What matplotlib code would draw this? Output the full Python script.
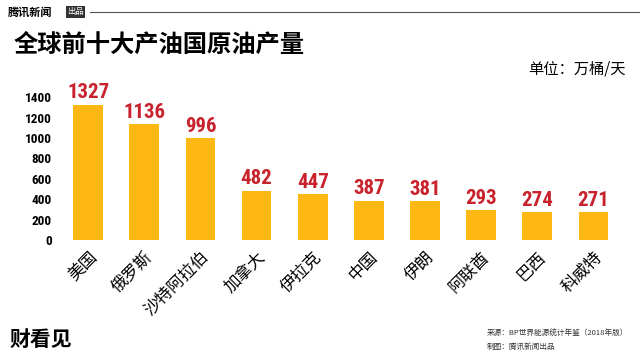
import matplotlib.pyplot as plt
from matplotlib import font_manager

plt.rcParams['font.family'] = ['Noto Sans CJK SC', 'DejaVu Sans']

countries = ['美国', '俄罗斯', '沙特阿拉伯', '加拿大', '伊拉克', '中国', '伊朗', '阿联酋', '巴西', '科威特']
output = [1327, 1136, 996, 482, 447, 387, 381, 293, 274, 271]
yticks = [0, 200, 400, 600, 800, 1000, 1200, 1400]

bar_color = '#FDB813'
num_color = '#C8232C'

# condensed font for the numbers if there is one
names = set(f.name for f in font_manager.fontManager.ttflist)
num_font = 'DejaVu Sans'
for n in ['Liberation Sans Narrow', 'DejaVu Sans Condensed', 'Roboto Condensed']:
    if n in names:
        num_font = n
        break

fig = plt.figure(figsize=(6.4, 3.61), dpi=100)
fig.patch.set_facecolor('white')

ax = fig.add_axes([0.094, 0.335, 0.877, 0.424])
x = range(len(countries))
ax.bar(x, output, width=0.53, color=bar_color)
for i, v in zip(x, output):
    ax.text(i, v + 25, str(v), ha='center', va='bottom', color=num_color,
            fontsize=15, fontweight='bold', family=num_font, stretch='condensed')

ax.set_xlim(-0.5, len(countries) - 0.5)
ax.set_ylim(0, 1500)
ax.set_yticks(yticks)
ax.set_yticklabels([str(t) for t in yticks], fontsize=9.5, fontweight='bold',
                   family=num_font, stretch='condensed')
ax.set_xticks(list(x))
ax.set_xticklabels(countries, rotation=45, ha='right', rotation_mode='anchor', fontsize=12)
ax.tick_params(length=0, pad=6)
for s in ax.spines.values():
    s.set_visible(False)

# header
fig.text(0.012, 0.967, '腾讯新闻', fontsize=8, fontweight='bold', style='italic', va='center')
fig.text(0.105, 0.967, '出品', fontsize=6, color='white', va='center',
         bbox=dict(facecolor='#333333', edgecolor='none', pad=1))
fig.add_artist(plt.Line2D([0.14, 1.0], [0.966, 0.966], color='#555555', lw=0.8))

fig.text(0.022, 0.875, '全球前十大产油国原油产量', fontsize=17.5, fontweight='bold', va='center')
fig.text(0.977, 0.81, '单位：万桶/天', fontsize=11, ha='right', va='center')

# footer
fig.text(0.015, 0.06, '财看见', fontsize=15, fontweight='bold', style='italic', va='center')
fig.text(0.76, 0.075, '来源：BP世界能源统计年鉴（2018年版）', fontsize=5.5, va='center', color='#333333')
fig.text(0.76, 0.04, '制图：腾讯新闻出品', fontsize=5.5, va='center', color='#333333')

fig.savefig('out.png', dpi=100)
